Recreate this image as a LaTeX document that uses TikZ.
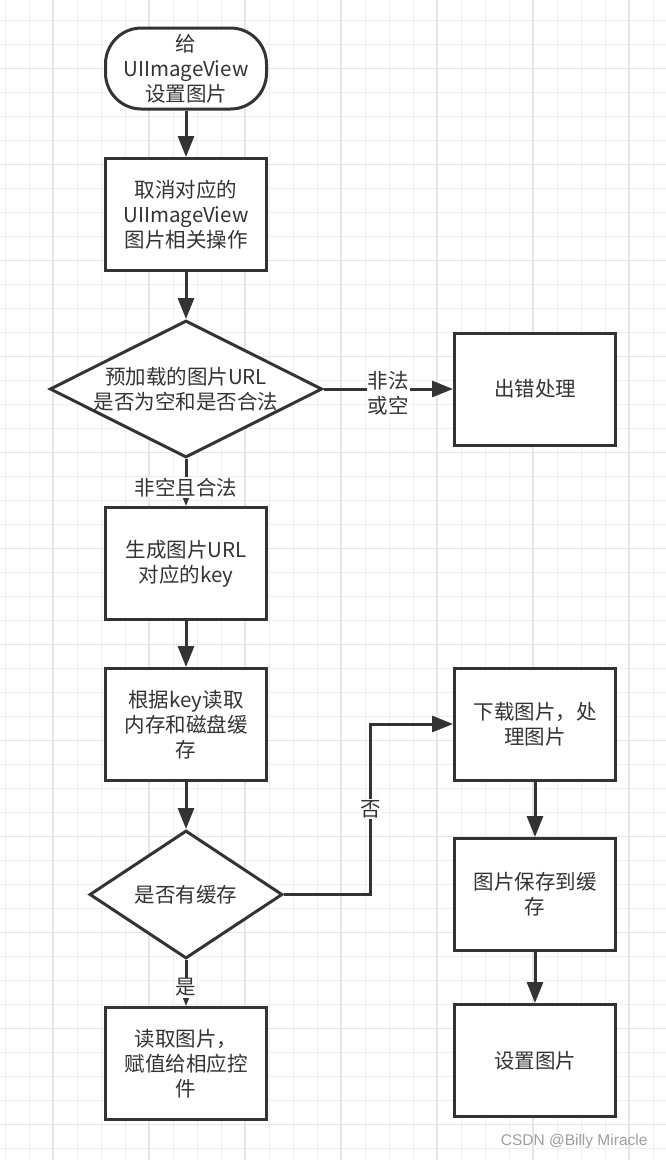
\documentclass[tikz,border=0pt]{standalone}
\usepackage{fontspec}
\setmainfont{Noto Sans CJK SC}
\newfontfamily\markfont{Liberation Sans}
\usetikzlibrary{shapes.geometric,arrows.meta}

\definecolor{ink}{HTML}{333333}
\definecolor{gridminor}{HTML}{EFEFEF}
\definecolor{gridmajor}{HTML}{E6E6E6}

\tikzset{
  flow/.style={draw=ink,line width=3pt,-{Triangle[length=21pt,width=16pt]}},
  proc/.style={draw=ink,line width=3pt,fill=white,align=center,
    minimum width=161pt,minimum height=112pt,inner sep=2pt},
  terminal/.style={proc,rounded corners=36pt,minimum height=81pt},
  decision/.style={draw=ink,line width=3pt,fill=white,align=center,
    shape=diamond,inner sep=0pt,aspect=2},
  lbl/.style={fill=white,inner sep=1pt,align=center}
}
\tikzstyle{every node}=[color=ink,font=\fontsize{20.5}{25}\selectfont]

\begin{document}
\begin{tikzpicture}[x=1pt,y=-1pt]
    \useasboundingbox (0,0) rectangle (666,1160);
    \fill[white] (0,0) rectangle (666,1160);
    % grid
    \foreach \i in {0,...,27}
      \draw[gridminor,line width=1pt] ({5+24*\i},0) -- ({5+24*\i},1160);
    \foreach \i in {0,...,47}
      \draw[gridminor,line width=1pt] (0,{20.7+24*\i}) -- (666,{20.7+24*\i});
    \foreach \i in {0,...,6}
      \draw[gridmajor,line width=1.2pt] ({53+96*\i},0) -- ({53+96*\i},1160);
    \foreach \i in {0,...,11}
      \draw[gridmajor,line width=1.2pt] (0,{68.7+96*\i}) -- (666,{68.7+96*\i});

    \node[terminal] (A) at (186,68.5) {给\\UIImageView\\设置图片};
    \node[proc] (B) at (186,214.5) {取消对应的\\UIImageView\\图片相关操作};
    \node[decision,minimum width=264pt,minimum height=137pt] (C) at (186,389)
      {预加载的图片URL\\是否为空和是否合法};
    \node[proc] (D) at (535,389) {出错处理};
    \node[proc] (E) at (186,563.5) {生成图片URL\\对应的key};
    \node[proc] (F) at (186,724.5) {根据key读取\\内存和磁盘缓\\存};
    \node[decision,minimum width=193pt,minimum height=128pt] (G) at (186,894.5)
      {是否有缓存};
    \node[proc] (H) at (186,1063.5) {读取图片，\\赋值给相应控\\件};
    \node[proc] (I) at (535,724) {下载图片，处\\理图片};
    \node[proc] (J) at (535,894.5) {图片保存到缓\\存};
    \node[proc] (K) at (535,1060.5) {设置图片};

    \draw[flow] (A) -- (B);
    \draw[flow] (B) -- (C);
    \draw[flow] (C) -- node[lbl,yshift=-4pt] {非法\\或空} (D);
    \draw[flow] (C) -- node[lbl,pos=0.6] {非空且合法} (E);
    \draw[flow] (E) -- (F);
    \draw[flow] (F) -- (G);
    \draw[flow] (G.east) -- ++(86.3,0) |- node[lbl,pos=0.25] {否} (I.west);
    \draw[flow] (G) -- node[lbl,pos=0.6] {是} (H);
    \draw[flow] (I) -- (J);
    \draw[flow] (J) -- (K);

    \node[anchor=east,color=gray!75,font=\markfont\fontsize{15.5}{18}\selectfont]
      (W) at (651,1141) {CSDN @Billy Miracle};
\end{tikzpicture}
\end{document}
